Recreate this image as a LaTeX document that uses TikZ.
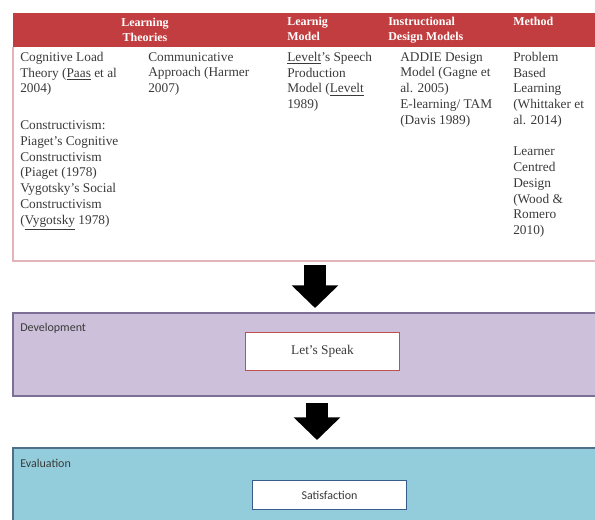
\documentclass[tikz,border=0pt]{standalone}
\usepackage{fontspec}
\setmainfont{Liberation Serif}
\newfontfamily\calib{Carlito}
\usetikzlibrary{arrows.meta}
\definecolor{hdrred}{HTML}{C23D3F}
\definecolor{tblline}{HTML}{E3B5B8}
\definecolor{devfill}{HTML}{CCC0DA}
\definecolor{devline}{HTML}{7C7096}
\definecolor{evfill}{HTML}{93CDDC}
\definecolor{evline}{HTML}{4E6E8A}
\definecolor{spkline}{HTML}{C0504D}
\definecolor{satline}{HTML}{385D8A}
\definecolor{txt}{HTML}{3A3A3A}
\begin{document}
\begin{tikzpicture}[x=0.75pt,y=-0.75pt,
  body/.style={anchor=north west,inner sep=0pt,align=left,text=txt,
    font=\fontsize{10}{11.8}\selectfont},
  hdr/.style={inner sep=0pt,text=white,
    font=\fontsize{9}{11.2}\selectfont\bfseries},
  panel/.style={line width=1.2pt},
  lbl/.style={anchor=north west,inner sep=0pt,text=txt,
    font=\calib\fontsize{9}{11}\selectfont},
  inbox/.style={fill=white,line width=0.8pt,minimum height=28pt,text=txt},
  bigarrow/.style={line width=16pt,-{Triangle[width=34pt,length=17pt]}}
  ]
\useasboundingbox (0,0) rectangle (595,519);
% table
\fill[hdrred] (13,13) rectangle (600,47);
\draw[tblline,line width=0.8pt] (600,261) -- (13,261) -- (13,47);
\coordinate (tbl) at (315,261);
% header
\node[hdr,align=center] (h1) at (145,30) {Learning\\Theories};
\node[hdr,anchor=north west,align=left] (h2) at (287,17) {Learnig\\Model};
\node[hdr,anchor=north west,align=left] (h3) at (388,17) {Instructional\\Design Models};
\node[hdr,anchor=north west,align=left] (h4) at (513,17) {Method};
% body
\node[body] (c1) at (20,52) {Cognitive Load\\Theory (\underline{Paas} et al\\2004)\\[15.7pt]
Constructivism:\\Piaget’s Cognitive\\Constructivism\\(Piaget (1978)\\Vygotsky’s Social\\Constructivism\\(\underline{Vygotsky} 1978)};
\node[body] (c2) at (148,52) {Communicative\\Approach (Harmer\\2007)};
\node[body] (c3) at (287,52) {\underline{Levelt}’s Speech\\Production\\Model (\underline{Levelt}\\1989)};
\node[body] (c4) at (400,52) {ADDIE Design\\Model (Gagne et\\al. 2005)\\E-learning/ TAM\\(Davis 1989)};
\node[body] (c5) at (513,52) {Problem\\Based\\Learning\\(Whittaker et\\al. 2014)\\[11.8pt]
Learner\\Centred\\Design\\(Wood \&\\Romero\\2010)};
% development
\draw[panel,fill=devfill,draw=devline] (13,313) rectangle (600,396);
\coordinate (devtop) at (315,313);
\node[lbl] (devl) at (20,323) {Development};
\node[inbox,draw=spkline,minimum width=116pt,font=\fontsize{10}{12}\selectfont] (speak) at (322.5,351.5) {Let’s Speak};
% evaluation
\draw[panel,fill=evfill,draw=evline] (13,448) rectangle (600,530);
\coordinate (evtop) at (317,448);
\node[lbl] (evl) at (20,459) {Evaluation};
\node[inbox,draw=satline,minimum width=116pt,minimum height=22pt,font=\calib\fontsize{9}{11}\selectfont] (sat) at (329.5,495) {Satisfaction};
% arrows
\coordinate (a1s) at (315,265);
\coordinate (a1e) at (315,308);
\coordinate (a2s) at (317,403);
\coordinate (a2e) at (317,440);
\draw[bigarrow] (a1s) -- (a1e);
\draw[bigarrow] (a2s) -- (a2e);
\end{tikzpicture}
\end{document}
